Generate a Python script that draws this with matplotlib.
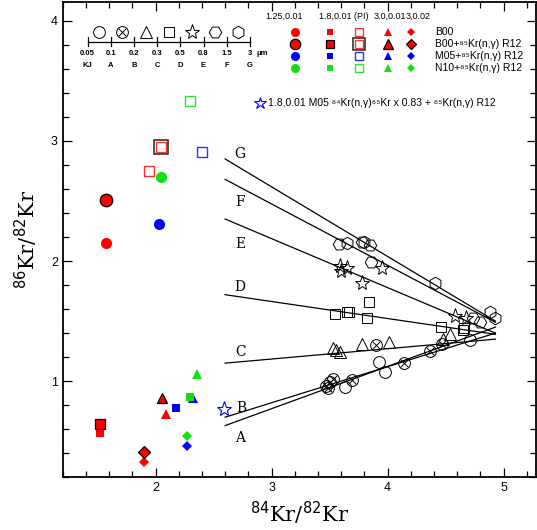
import numpy as np
import matplotlib
matplotlib.use('Agg')
import matplotlib.pyplot as plt

plt.rcParams['mathtext.fontset'] = 'dejavusans'
plt.rcParams['font.family'] = ['Liberation Sans', 'DejaVu Sans']

# stellar model predictions (coloured symbols), one entry per model row
model_names = ['B00', 'B00+⁸⁵Kr(n,γ) R12', 'M05+⁸⁵Kr(n,γ) R12', 'N10+⁸⁵Kr(n,γ) R12']
model_colors = ['#ff0000', '#ff0000', '#0000ff', '#10e010']
model_light = ['#ff3030', '#ff3030', '#3030ff', '#30e030']
model_edged = [False, True, False, False]
col_headers = ['1.25,0.01', '1.8,0.01 (PI)', '3.0,0.01', '3,0.02']

circ_x = [1.57, 1.57, 2.03, 2.05]
circ_y = [2.15, 2.51, 2.31, 2.70]
sq_x = [1.52, 1.52, 2.18, 2.30]
sq_y = [0.57, 0.64, 0.78, 0.87]
osq_x = [1.94, 2.05, 2.40, 2.30]
osq_y = [2.75, 2.95, 2.91, 3.33]
tri_x = [2.09, 2.06, 2.32, 2.36]
tri_y = [0.73, 0.86, 0.86, 1.06]
dia_x = [1.90, 1.90, 2.27, 2.27]
dia_y = [0.33, 0.41, 0.46, 0.54]

star_x = [2.59]
star_y = [0.77]
star_label = '1.8,0.01 M05 ⁸⁴Kr(n,γ)⁸⁵Kr x 0.83 + ⁸⁵Kr(n,γ) R12'

# SiC grain data, by grain size bin
grainA_x = [3.63, 3.93, 3.98, 4.71]
grainA_y = [0.95, 1.16, 1.08, 1.34]
grainB_x = [3.47, 3.49, 3.50, 3.53, 3.69, 3.90, 4.14, 4.37, 4.47]
grainB_y = [0.96, 0.94, 0.99, 1.02, 1.01, 1.30, 1.15, 1.25, 1.31]
grainC_x = [3.53, 3.56, 3.59, 3.78, 4.01, 4.48, 4.54]
grainC_y = [1.28, 1.26, 1.24, 1.31, 1.33, 1.35, 1.39]
grainD_x = [3.55, 3.65, 3.67, 3.82, 3.84, 4.46, 4.65, 4.66]
grainD_y = [1.56, 1.58, 1.58, 1.53, 1.66, 1.45, 1.43, 1.44]
grainE_x = [3.59, 3.60, 3.65, 3.78, 3.95, 4.58, 4.68]
grainE_y = [1.96, 1.92, 1.94, 1.82, 1.94, 1.54, 1.53]
grainF_x = [3.58, 3.78, 3.85, 3.86, 4.74, 4.80]
grainF_y = [2.14, 2.16, 2.13, 1.99, 1.53, 1.49]
grainG_x = [3.65, 3.80, 4.41, 4.88, 4.93]
grainG_y = [2.15, 2.16, 1.82, 1.58, 1.53]

# mixing lines
line_names = ['A', 'B', 'C', 'D', 'E', 'F', 'G']
line_x0 = [2.60] * 7
line_x1 = [4.93] * 7
line_y0 = [0.63, 0.70, 1.15, 1.72, 2.35, 2.68, 2.85]
line_y1 = [1.45, 1.40, 1.35, 1.39, 1.40, 1.49, 1.50]
label_x = [2.73, 2.74, 2.73, 2.73, 2.73, 2.73, 2.73]
label_y = [0.53, 0.78, 1.24, 1.78, 2.14, 2.49, 2.89]

# grain size scale
scale_ticks = ['0.05', '0.1', '0.2', '0.3', '0.5', '0.8', '1.5', '3']
scale_names = ['KJ', 'A', 'B', 'C', 'D', 'E', 'F', 'G']

fig = plt.figure(figsize=(5.37, 5.30), dpi=100)
ax = fig.add_axes([0.1168, 0.0995, 0.882, 0.897])


def grain(ax, x, y, marker, ms):
    ax.plot(x, y, marker, ls='none', ms=ms, mfc='none', mec='black', mew=0.7, zorder=3)


def crossed(ax, x, y, ms):
    ax.plot(x, y, 'o', ls='none', ms=ms, mfc='none', mec='black', mew=0.7, zorder=3)
    ax.plot(x, y, 'x', ls='none', ms=ms * 0.62, mec='black', mew=0.7, zorder=3)


def model(ax, x, y, marker, color, edged, ms):
    if edged:
        ax.plot(x, y, marker, ls='none', ms=ms + 1, mfc=color, mec='black', mew=0.9, zorder=4)
    else:
        ax.plot(x, y, marker, ls='none', ms=ms, mfc=color, mec=color, mew=0, zorder=4)


def model_open(ax, x, y, color, edged, ms):
    ax.plot(x, y, 's', ls='none', ms=ms, mfc='none', mec=color, mew=1.0, zorder=4)
    if edged:
        ax.plot(x, y, 's', ls='none', ms=ms + 3.5, mfc='none', mec='#222222', mew=1.1, zorder=4)


# lines
for i in range(len(line_names)):
    ax.plot([line_x0[i], line_x1[i]], [line_y0[i], line_y1[i]], color='black', lw=0.9, zorder=2)
    ax.text(label_x[i], label_y[i], line_names[i], family='DejaVu Serif', fontsize=10,
            ha='center', va='center')

# grains
grain(ax, grainA_x, grainA_y, 'o', 8.5)
crossed(ax, grainB_x, grainB_y, 8.5)
grain(ax, grainC_x, grainC_y, '^', 8)
grain(ax, grainD_x, grainD_y, 's', 7.5)
grain(ax, grainE_x, grainE_y, '*', 11)
grain(ax, grainF_x, grainF_y, 'H', 9)
grain(ax, grainG_x, grainG_y, 'h', 9)

# models
for i in range(4):
    model(ax, circ_x[i], circ_y[i], 'o', model_colors[i], model_edged[i], 8)
    model(ax, sq_x[i], sq_y[i], 's', model_colors[i], model_edged[i], 6)
    model(ax, tri_x[i], tri_y[i], '^', model_colors[i], model_edged[i], 6.5)
    model(ax, dia_x[i], dia_y[i], 'D', model_colors[i], model_edged[i], 5.5)
    model_open(ax, osq_x[i], osq_y[i], model_light[i], model_edged[i], 6.5)
ax.plot(star_x, star_y, '*', ls='none', ms=11, mfc='none', mec='#0000ff', mew=0.8, zorder=4)

# model legend (top right)
col_x = [3.20, 3.50, 3.75, 4.00, 4.20]
row_y = [3.91, 3.81, 3.71, 3.61]
head_x = [3.11, 3.62, 4.02, 4.26]
for j in range(4):
    ax.text(head_x[j], 4.035, col_headers[j], fontsize=6.5, ha='center', va='center')
for i in range(4):
    model(ax, col_x[0], row_y[i], 'o', model_colors[i], model_edged[i], 6.5)
    model(ax, col_x[1], row_y[i], 's', model_colors[i], model_edged[i], 5)
    model_open(ax, col_x[2], row_y[i], model_light[i], model_edged[i], 5.5)
    model(ax, col_x[3], row_y[i], '^', model_colors[i], model_edged[i], 5.5)
    model(ax, col_x[4], row_y[i], 'D', model_colors[i], model_edged[i], 4.5)
    ax.text(4.41, row_y[i], model_names[i], fontsize=7.5, ha='left', va='center')
ax.plot([2.90], [3.32], '*', ls='none', ms=9, mfc='none', mec='#0000ff', mew=0.8)
ax.text(2.97, 3.32, star_label, fontsize=7.5, ha='left', va='center')

# grain size scale (top left)
sx = 1.414 + 0.2 * np.arange(len(scale_ticks))
ax.plot([sx[0], sx[-1]], [3.825, 3.825], color='black', lw=0.9)
for k in range(len(scale_ticks)):
    ax.plot([sx[k], sx[k]], [3.792, 3.862], color='black', lw=0.9)
    ax.text(sx[k], 3.725, scale_ticks[k], fontsize=5.5, weight='bold', ha='center', va='center')
    ax.text(sx[k], 3.625, scale_names[k], fontsize=5.5, weight='bold', ha='center', va='center')
ax.text(sx[-1] + 0.06, 3.725, 'μm', fontsize=5.5, weight='bold', ha='left', va='center')
mid = (sx[:-1] + sx[1:]) / 2
grain(ax, [mid[0]], [3.905], 'o', 8.5)
crossed(ax, [mid[1]], [3.905], 8.5)
grain(ax, [mid[2]], [3.905], '^', 8)
grain(ax, [mid[3]], [3.905], 's', 7.5)
grain(ax, [mid[4]], [3.905], '*', 11)
grain(ax, [mid[5]], [3.905], 'H', 9)
grain(ax, [mid[6]], [3.905], 'h', 9)

ax.set_xlim(1.2, 5.283)
ax.set_ylim(0.2, 4.158)
ax.set_xticks([2, 3, 4, 5])
ax.set_yticks([1, 2, 3, 4])
ax.set_xticks(np.arange(1.2, 5.3, 0.2), minor=True)
ax.set_yticks(np.arange(0.2, 4.15, 0.2), minor=True)
ax.tick_params(which='both', direction='in', top=True, right=True, labelsize=9, width=0.9)
ax.tick_params(which='major', length=6.5)
ax.tick_params(which='minor', length=4)
for s in ax.spines.values():
    s.set_linewidth(1.3)

ax.set_xlabel('$^{84}$Kr/$^{82}$Kr', family='DejaVu Serif', fontsize=15, labelpad=4)
ax.set_ylabel('$^{86}$Kr/$^{82}$Kr', family='DejaVu Serif', fontsize=15, labelpad=8)

fig.savefig('out.png', dpi=100)
